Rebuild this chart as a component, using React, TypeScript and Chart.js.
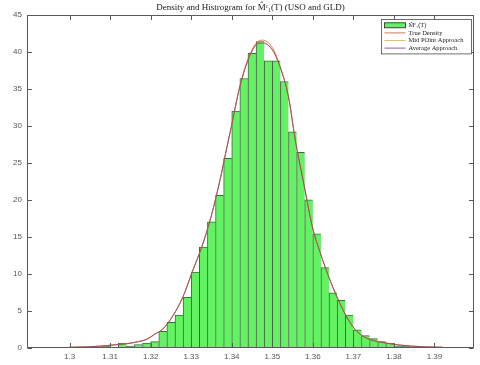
import { useEffect, useRef } from "react";
import { Chart, registerables } from "chart.js";

Chart.register(...registerables);

const titleText = "Density and Histrogram for M\u0302\u1D9C\u2081(T) (USO and GLD)";
const legendLabels = ["M\u0302\u1D9C\u2081(T)", "True Density", "Mid POint Approach", "Average Approach"];

// histogram bins (width 0.002), centre of each bin and its density
const binCenters = [
  1.309, 1.311, 1.313, 1.315, 1.317, 1.319, 1.321, 1.323, 1.325, 1.327,
  1.329, 1.331, 1.333, 1.335, 1.337, 1.339, 1.341, 1.343, 1.345, 1.347,
  1.349, 1.351, 1.353, 1.355, 1.357, 1.359, 1.361, 1.363, 1.365, 1.367,
  1.369, 1.371, 1.373, 1.375, 1.377, 1.379, 1.381, 1.383,
];
const histDensity = [
  0.2, 0, 0.6, 0.2, 0.4, 0.6, 0.8, 2.2, 3.4, 4.4,
  6.8, 10.2, 13.6, 17.0, 20.6, 25.6, 32.0, 36.4, 39.8, 41.4,
  38.8, 38.8, 36.0, 29.2, 26.4, 20.0, 15.4, 10.8, 7.4, 6.4,
  4.4, 2.4, 1.6, 1.2, 0.8, 0.6, 0.2, 0.2,
];

// density curves sampled along x
const curveX = [
  1.300, 1.304, 1.308, 1.311, 1.314, 1.317, 1.319, 1.321, 1.323, 1.3255,
  1.328, 1.3303, 1.3326, 1.3349, 1.3372, 1.3385, 1.3399, 1.3419, 1.3439, 1.3459,
  1.3475, 1.3500, 1.3519, 1.3540, 1.3557, 1.3579, 1.3599, 1.3619, 1.3639, 1.3659,
  1.3679, 1.3699, 1.3719, 1.374, 1.376, 1.378, 1.381, 1.384, 1.388, 1.392,
];
const trueDensity = [
  0.03, 0.08, 0.2, 0.35, 0.5, 0.8, 1.1, 1.8, 2.5, 4.3,
  6.9, 10.3, 13.6, 17.7, 22.9, 26.3, 29.9, 35.1, 38.9, 41.1,
  41.6, 40.6, 38.1, 33.9, 28.0, 21.8, 16.3, 12.7, 9.6, 6.9,
  4.6, 2.8, 1.7, 1.1, 0.8, 0.6, 0.35, 0.2, 0.08, 0.03,
];
const midPointDensity = [
  0.03, 0.08, 0.2, 0.35, 0.5, 0.8, 1.1, 1.8, 2.5, 4.3,
  6.9, 10.3, 13.6, 17.7, 22.9, 26.3, 29.9, 35.1, 38.7, 40.9,
  41.3, 40.3, 38.0, 33.9, 28.0, 21.8, 16.3, 12.7, 9.6, 6.9,
  4.6, 2.8, 1.7, 1.1, 0.8, 0.6, 0.35, 0.2, 0.08, 0.03,
];
const averageDensity = [
  0.03, 0.08, 0.2, 0.35, 0.5, 0.8, 1.1, 1.8, 2.5, 4.3,
  6.9, 10.3, 13.6, 17.7, 22.9, 26.3, 29.9, 35.1, 38.7, 40.9,
  41.2, 40.3, 38.0, 33.9, 28.0, 21.8, 16.3, 12.7, 9.6, 6.9,
  4.6, 2.8, 1.7, 1.1, 0.8, 0.6, 0.35, 0.2, 0.08, 0.03,
];

const xTicks = [1.3, 1.31, 1.32, 1.33, 1.34, 1.35, 1.36, 1.37, 1.38, 1.39];
const yTicks = [0, 5, 10, 15, 20, 25, 30, 35, 40, 45];
const xLimits = [1.29501, 1.39424];
const yLimits = [0, 45];

const histFill = "#62F262";
const histEdge = "rgba(45,45,45,0.8)";
const lineColors = ["#D95319", "#EDB120", "#7E2F8E"];
const axisColor = "#5a5a5a";
const tickFont = { family: "'Liberation Sans', Arial, sans-serif", size: 8 };
const serifFamily = "'Liberation Serif', 'Times New Roman', serif";

export default function App() {
  const canvasRef = useRef<HTMLCanvasElement>(null);

  useEffect(() => {
    const canvas = canvasRef.current;
    if (!canvas) return;

    // title centred over the axes
    const titlePlugin = {
      id: "axesTitle",
      afterDraw(chart: any) {
        const { ctx, chartArea } = chart;
        ctx.save();
        ctx.font = `9px ${serifFamily}`;
        ctx.fillStyle = "#1a1a1a";
        ctx.textAlign = "center";
        ctx.textBaseline = "middle";
        ctx.fillText(titleText, (chartArea.left + chartArea.right) / 2, chartArea.top - 7.5);
        ctx.restore();
      },
    };

    // axes box with inward tick marks on all four sides
    const framePlugin = {
      id: "frameBox",
      afterDatasetsDraw(chart: any) {
        const { ctx, chartArea } = chart;
        const xs = chart.scales.x;
        const ys = chart.scales.y;
        const L = Math.round(chartArea.left) + 0.5;
        const R = Math.round(chartArea.right) - 0.5;
        const T = Math.round(chartArea.top) + 0.5;
        const B = Math.round(chartArea.bottom) - 0.5;
        const len = 4.5;
        ctx.save();
        ctx.strokeStyle = axisColor;
        ctx.lineWidth = 1;
        ctx.strokeRect(L, T, R - L, B - T);
        ctx.beginPath();
        for (const v of xTicks) {
          const p = Math.round(xs.getPixelForValue(v)) + 0.5;
          ctx.moveTo(p, B);
          ctx.lineTo(p, B - len);
          ctx.moveTo(p, T);
          ctx.lineTo(p, T + len);
        }
        for (const v of yTicks) {
          const p = Math.round(ys.getPixelForValue(v)) + 0.5;
          ctx.moveTo(L, p);
          ctx.lineTo(L + len, p);
          ctx.moveTo(R, p);
          ctx.lineTo(R - len, p);
        }
        ctx.stroke();
        ctx.restore();
      },
    };

    // boxed legend in the upper right corner of the axes
    const legendPlugin = {
      id: "cornerLegend",
      afterDraw(chart: any) {
        const { ctx, chartArea } = chart;
        const boxR = chartArea.right - 2.5;
        const boxL = boxR - 90;
        const boxT = chartArea.top + 4.5;
        const rowH = 7.6;
        const boxB = boxT + rowH * 4 + 4;
        ctx.save();
        ctx.fillStyle = "#ffffff";
        ctx.fillRect(boxL, boxT, boxR - boxL, boxB - boxT);
        ctx.strokeStyle = "#4a4a4a";
        ctx.lineWidth = 0.8;
        ctx.strokeRect(boxL, boxT, boxR - boxL, boxB - boxT);
        ctx.font = `6.5px ${serifFamily}`;
        ctx.textBaseline = "middle";
        ctx.textAlign = "left";
        const sampleL = boxL + 3;
        const sampleR = boxL + 24;
        legendLabels.forEach((label, i) => {
          const cy = boxT + 2 + rowH * (i + 0.5);
          if (i === 0) {
            ctx.fillStyle = histFill;
            ctx.fillRect(sampleL, cy - 2.5, sampleR - sampleL, 5);
            ctx.strokeStyle = "#222";
            ctx.lineWidth = 0.8;
            ctx.strokeRect(sampleL, cy - 2.5, sampleR - sampleL, 5);
          } else {
            ctx.strokeStyle = lineColors[i - 1];
            ctx.lineWidth = 0.8;
            ctx.beginPath();
            ctx.moveTo(sampleL, cy);
            ctx.lineTo(sampleR, cy);
            ctx.stroke();
          }
          ctx.fillStyle = "#222";
          ctx.fillText(label, sampleR + 3, cy);
        });
        ctx.restore();
      },
    };

    const toPoints = (xv: number[], yv: number[]) => xv.map((x, i) => ({ x, y: yv[i] }));
    const curve = (label: string, values: number[], color: string, order: number) => ({
      type: "line",
      label,
      data: toPoints(curveX, values),
      borderColor: color,
      borderWidth: 0.75,
      pointRadius: 0,
      cubicInterpolationMode: "monotone",
      order,
    });

    const chart = new Chart(canvas, {
      type: "bar",
      data: {
        datasets: [
          curve(legendLabels[3], averageDensity, lineColors[2], 1),
          curve(legendLabels[2], midPointDensity, lineColors[1], 2),
          curve(legendLabels[1], trueDensity, lineColors[0], 3),
          {
            type: "bar",
            label: legendLabels[0],
            data: toPoints(binCenters, histDensity),
            backgroundColor: histFill,
            borderColor: histEdge,
            borderWidth: { left: 1, top: 1, right: 0, bottom: 0 },
            borderSkipped: false,
            barPercentage: 1,
            categoryPercentage: 1,
            grouped: false,
            order: 4,
          },
        ],
      } as any,
      options: {
        responsive: false,
        animation: false,
        events: [],
        layout: { padding: { top: 15, right: 6, bottom: 0, left: 0 } },
        plugins: {
          legend: { display: false },
          tooltip: { enabled: false },
          title: { display: false },
        },
        scales: {
          x: {
            type: "linear",
            min: xLimits[0],
            max: xLimits[1],
            afterBuildTicks: (s: any) => {
              s.ticks = xTicks.map((value) => ({ value }));
            },
            afterFit: (s: any) => {
              s.height = 17.5;
            },
            grid: { display: false, drawTicks: false },
            border: { display: false },
            ticks: {
              color: "#555555",
              font: tickFont,
              padding: 4,
              maxRotation: 0,
              autoSkip: false,
              callback: (v: any) => String(Math.round(Number(v) * 100) / 100),
            },
          },
          y: {
            type: "linear",
            min: yLimits[0],
            max: yLimits[1],
            afterBuildTicks: (s: any) => {
              s.ticks = yTicks.map((value) => ({ value }));
            },
            afterFit: (s: any) => {
              s.width = 27;
            },
            grid: { display: false, drawTicks: false },
            border: { display: false },
            ticks: {
              color: "#555555",
              font: tickFont,
              padding: 5,
              autoSkip: false,
              callback: (v: any) => String(v),
            },
          },
        },
      } as any,
      plugins: [framePlugin, legendPlugin, titlePlugin],
    });

    return () => chart.destroy();
  }, []);

  return (
    <div style={{ position: "absolute", left: 0, top: 0, width: 480, height: 365, background: "#ffffff" }}>
      <canvas ref={canvasRef} width={480} height={365} style={{ display: "block" }} />
    </div>
  );
}
